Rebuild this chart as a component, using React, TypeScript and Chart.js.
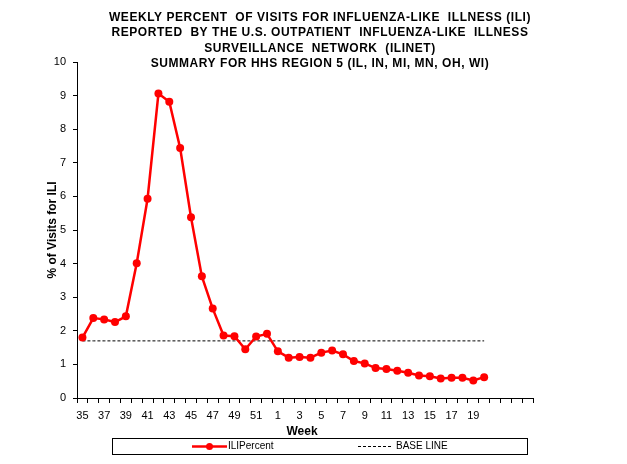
import { useEffect, useRef } from "react";
import { Chart, registerables } from "chart.js";

Chart.register(...registerables);

// Surveillance weeks on the category axis (season runs from week 35 into the next year);
// the last four slots are unlabelled room at the end of the axis
const weeks = [
  "35", "36", "37", "38", "39", "40", "41", "42", "43", "44", "45", "46", "47", "48", "49", "50", "51", "52",
  "1", "2", "3", "4", "5", "6", "7", "8", "9", "10", "11", "12", "13", "14", "15", "16", "17", "18", "19", "20",
  "", "", "", "",
];

// Weekly % of visits for ILI, weeks 35..52 then 1..20
const iliPercent = [
  1.8, 2.38, 2.34, 2.26, 2.43, 4.01, 5.93, 9.06, 8.82, 7.44, 5.38, 3.62, 2.66, 1.86, 1.84, 1.45, 1.83, 1.91,
  1.39, 1.2, 1.22, 1.2, 1.35, 1.41, 1.3, 1.1, 1.03, 0.89, 0.86, 0.81, 0.75, 0.67, 0.65, 0.58, 0.6, 0.6, 0.52, 0.62,
];

// Regional baseline
const baseLine = 1.7;

const yTicks = [0, 1, 2, 3, 4, 5, 6, 7, 8, 9, 10];

const titleLines = [
  "WEEKLY PERCENT  OF VISITS FOR INFLUENZA-LIKE  ILLNESS (ILI)",
  "REPORTED  BY THE U.S. OUTPATIENT  INFLUENZA-LIKE  ILLNESS",
  "SURVEILLANCE  NETWORK  (ILINET)",
  "SUMMARY FOR HHS REGION 5 (IL, IN, MI, MN, OH, WI)",
];

const FONT = "'Liberation Sans', Arial, sans-serif";
const RED = "#ff0000";

const decorations = {
  id: "decorations",
  afterDraw(chart: any) {
    const ctx: CanvasRenderingContext2D = chart.ctx;
    const area = chart.chartArea;
    ctx.save();
    ctx.fillStyle = "#000";

    // Title block
    ctx.font = `bold 12px ${FONT}`;
    ctx.textAlign = "center";
    ctx.textBaseline = "alphabetic";
    (ctx as any).letterSpacing = "0.55px";
    titleLines.forEach((line, i) => ctx.fillText(line, 320, 20.5 + i * 15.5));
    (ctx as any).letterSpacing = "0px";

    // Axis titles
    ctx.font = `bold 12px ${FONT}`;
    ctx.fillText("Week", (area.left + area.right) / 2 - 3, 435);
    ctx.save();
    ctx.translate(56, (area.top + area.bottom) / 2);
    ctx.rotate(-Math.PI / 2);
    ctx.fillText("% of Visits for ILI", 0, 0);
    ctx.restore();

    // Legend box
    ctx.strokeStyle = "#000";
    ctx.lineWidth = 1;
    ctx.strokeRect(112.5, 438.5, 415, 16);

    const ly = 446.5;
    const ili = chart.data.datasets[0];
    ctx.strokeStyle = ili.borderColor;
    ctx.lineWidth = 2.5;
    ctx.beginPath();
    ctx.moveTo(192, ly);
    ctx.lineTo(227, ly);
    ctx.stroke();
    ctx.fillStyle = ili.pointBackgroundColor;
    ctx.beginPath();
    ctx.arc(209.5, ly, 3.5, 0, Math.PI * 2);
    ctx.fill();

    const base = chart.data.datasets[1];
    ctx.strokeStyle = base.borderColor;
    ctx.lineWidth = 1;
    ctx.setLineDash(base.borderDash);
    ctx.beginPath();
    ctx.moveTo(358, ly);
    ctx.lineTo(393, ly);
    ctx.stroke();
    ctx.setLineDash([]);

    ctx.fillStyle = "#000";
    ctx.font = `10px ${FONT}`;
    ctx.textAlign = "left";
    ctx.textBaseline = "middle";
    ctx.fillText(ili.label, 228, ly);
    ctx.fillText(base.label, 396, ly);

    ctx.restore();
  },
};

export default function App() {
  const canvasRef = useRef<HTMLCanvasElement | null>(null);

  useEffect(() => {
    const canvas = canvasRef.current;
    if (!canvas) return;
    const padded = (values: number[]) => weeks.map((_, i) => (i < values.length ? values[i] : null));
    const chart = new Chart(canvas, {
      type: "line",
      data: {
        labels: weeks,
        datasets: [
          {
            label: "ILIPercent",
            data: padded(iliPercent),
            borderColor: RED,
            backgroundColor: RED,
            pointBackgroundColor: RED,
            pointBorderColor: RED,
            borderWidth: 2.5,
            pointRadius: 4,
            pointBorderWidth: 0,
            tension: 0,
            order: 1,
          },
          {
            label: "BASE LINE",
            data: padded(iliPercent.map(() => baseLine)),
            borderColor: "#000",
            borderWidth: 1,
            borderDash: [3, 2],
            pointRadius: 0,
            tension: 0,
            order: 2,
          },
        ],
      },
      options: {
        responsive: false,
        animation: false,
        layout: { padding: { top: 62, right: 94, bottom: 0, left: 0 } },
        plugins: {
          legend: { display: false },
          title: { display: false },
          tooltip: { enabled: false },
        },
        scales: {
          x: {
            type: "category",
            offset: true,
            grid: {
              offset: true,
              drawOnChartArea: false,
              drawTicks: true,
              tickLength: 5,
              color: "#000",
            },
            border: { display: true, color: "#000", width: 1 },
            ticks: {
              autoSkip: false,
              maxRotation: 0,
              minRotation: 0,
              padding: 6,
              color: "#000",
              font: { family: FONT, size: 11 },
              callback: (_v: any, i: number) => (i % 2 === 0 ? weeks[i] : ""),
            },
            afterFit: (scale: any) => {
              scale.height = 66;
            },
          },
          y: {
            min: 0,
            max: 10,
            afterBuildTicks: (scale: any) => {
              scale.ticks = yTicks.map((v) => ({ value: v }));
            },
            grid: {
              drawOnChartArea: false,
              drawTicks: true,
              tickLength: 4,
              color: "#000",
            },
            border: { display: true, color: "#000", width: 1 },
            ticks: {
              padding: 7,
              color: "#000",
              font: { family: FONT, size: 11 },
            },
            afterFit: (scale: any) => {
              scale.width = 77;
            },
          },
        },
      },
      plugins: [decorations],
    });
    return () => chart.destroy();
  }, []);

  return (
    <div style={{ position: "absolute", left: 0, top: 0, width: 627, height: 464, background: "#fff" }}>
      <canvas ref={canvasRef} width={627} height={464} style={{ display: "block" }} />
    </div>
  );
}
